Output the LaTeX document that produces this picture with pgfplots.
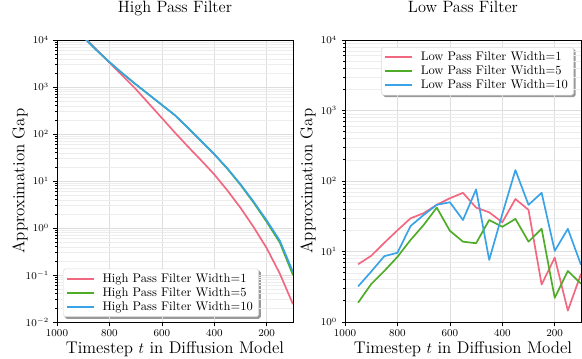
\documentclass[border=0pt]{standalone}
\usepackage{pgfplots}
\pgfplotsset{compat=1.18}
\pgfdeclarelayer{shadowlayer}
\pgfsetlayers{shadowlayer,main}
\definecolor{cpink}{RGB}{242,104,128}
\definecolor{cgreen}{RGB}{78,172,40}
\definecolor{cblue}{RGB}{58,163,232}
\pgfplotsset{
  every axis/.append style={
    width=181.5pt, height=216.9pt, scale only axis,
    x dir=reverse, xmin=100, xmax=1000,
    xtick={1000,800,600,400,200},
    xticklabel style={/pgf/number format/set thousands separator={}},
    grid=both,
    major grid style={draw=black!13, line width=0.45pt},
    minor grid style={draw=black!7, line width=0.35pt},
    axis line style={black, line width=0.65pt},
    tick align=outside,
    major tick length=2.7pt, minor tick length=1.5pt,
    tick style={black, line width=0.5pt},
    tick label style={font=\fontsize{7.8}{9}\selectfont},
    label style={font=\fontsize{13}{15}\selectfont},
    xlabel style={at={(axis description cs:0.5,-0.11)}, anchor=base},
    ylabel style={at={(axis description cs:-0.157,0.5)}, anchor=center},
    title style={at={(axis description cs:0.5,1)}, anchor=base, yshift=15.4pt, font=\fontsize{12.6}{15}\selectfont},
    legend cell align=left,
    legend style={font=\fontsize{9.6}{11}\selectfont, draw=black!15, rounded corners=1.5pt, fill=white,
      inner xsep=2.5pt, inner ysep=1.5pt, row sep=-1.4pt,
      /tikz/every odd column/.append style={column sep=4pt}},
  },
  every axis plot/.append style={line width=1.3pt, line join=round, mark=none},
  every axis plot post/.append style={legend image code/.code={\draw[##1] (0pt,0pt) -- (20.5pt,0pt);}},
}
\begin{document}
\begin{tikzpicture}
\begin{semilogyaxis}[at={(43.85pt,27.69pt)}, anchor=south west,
  xtick pos=left, ytick pos=left,
  xlabel={Timestep $t$ in Diffusion Model},
  ylabel={Approximation Gap},
  title={High Pass Filter},
  ymin=1e-2, ymax=1e4,
  legend style={at={(0.025,0.018)}, anchor=south west, name=legL}]
\addplot[cpink] coordinates {(950,22900)(900,12000)(850,6310)(800,3311)(750,1738)(700,912)(650,447)(600,219)(550,107)(500,53.7)(450,27.5)(400,13.8)(350,6.31)(300,2.69)(250,1.047)(200,0.372)(150,0.107)(100,0.024)};
\addplot[cgreen] coordinates {(950,22900)(900,11750)(850,6166)(800,3388)(750,1950)(700,1148)(650,692)(600,417)(550,251)(500,135)(450,70.8)(400,37.2)(350,18.2)(300,8.3)(250,3.47)(200,1.35)(150,0.49)(100,0.100)};
\addplot[cblue] coordinates {(950,22900)(900,11750)(850,6166)(800,3388)(750,1950)(700,1148)(650,692)(600,417)(550,251)(500,135)(450,70.8)(400,37.2)(350,18.6)(300,8.51)(250,3.63)(200,1.45)(150,0.537)(100,0.117)};
\legend{High Pass Filter Width=1, High Pass Filter Width=5, High Pass Filter Width=10}
\end{semilogyaxis}
\begin{semilogyaxis}[at={(265.4pt,27.69pt)}, anchor=south west,
  xtick pos=left, ytick pos=left,
  xlabel={Timestep $t$ in Diffusion Model},
  ylabel={Approximation Gap},
  title={Low Pass Filter},
  ymin=1, ymax=1e4,
  legend style={at={(0.97,0.975)}, anchor=north east, name=legR}]
\addplot[cpink] coordinates {(950,6.6)(900,8.7)(850,13.3)(800,20)(750,29.6)(700,35)(650,46)(600,57)(550,68)(500,42)(450,36)(400,26)(350,55.6)(300,39)(250,3.4)(200,8.2)(150,1.45)(100,4.8)};
\addplot[cgreen] coordinates {(950,1.88)(900,3.46)(850,5.3)(800,8.4)(750,14.6)(700,23.8)(650,42)(600,19.7)(550,13.8)(500,13.1)(450,28)(400,22.4)(350,29)(300,13.8)(250,21)(200,2.2)(150,5.3)(100,3.5)};
\addplot[cblue] coordinates {(950,3.2)(900,5.2)(850,8.6)(800,9.6)(750,23)(700,33)(650,46)(600,50)(550,28)(500,76)(450,7.6)(400,34)(350,143)(300,46)(250,68)(200,10.2)(150,21)(100,6.5)};
\legend{Low Pass Filter Width=1, Low Pass Filter Width=5, Low Pass Filter Width=10}
\end{semilogyaxis}
\begin{pgfonlayer}{shadowlayer}
\fill[black!40, rounded corners=1.5pt] ([shift={(1.4pt,-1.4pt)}]legL.south west) rectangle ([shift={(1.4pt,-1.4pt)}]legL.north east);
\fill[black!40, rounded corners=1.5pt] ([shift={(1.4pt,-1.4pt)}]legR.south west) rectangle ([shift={(1.4pt,-1.4pt)}]legR.north east);
\end{pgfonlayer}
\pgfresetboundingbox
\path[use as bounding box] (0pt,0pt) rectangle (447.7pt,275.4pt);
\end{tikzpicture}
\end{document}
